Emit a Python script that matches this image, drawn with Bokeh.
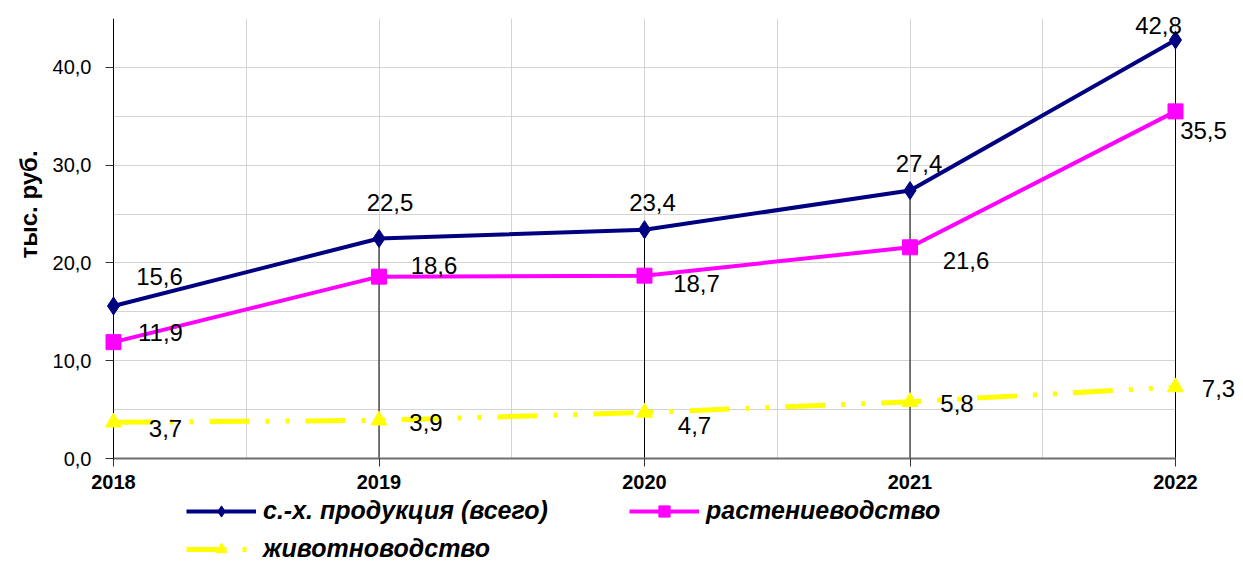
from bokeh.plotting import figure
from bokeh.models import FixedTicker, Legend, LegendItem, Title
from bokeh.core.properties import value
from bokeh.embed import file_html
from bokeh.resources import INLINE

# ---- data ----
years = [2018, 2019, 2020, 2021, 2022]
year_labels = ["2018", "2019", "2020", "2021", "2022"]
total = [15.6, 22.5, 23.4, 27.4, 42.8]        # с.-х. продукция (всего)
crops = [11.9, 18.6, 18.7, 21.6, 35.5]        # растениеводство
livestock = [3.7, 3.9, 4.7, 5.8, 7.3]         # животноводство
series_names = ["с.-х. продукция (всего)", "растениеводство", "животноводство"]
y_ticks = [0, 10, 20, 30, 40]
y_tick_labels = ["0,0", "10,0", "20,0", "30,0", "40,0"]
y_title = "тыс. руб."
y_max = 45

# ---- layout / style (not data) ----
y_grid_lines = [0, 5, 10, 15, 20, 25, 30, 35, 40, 45]
x_grid_lines = [2018, 2018.5, 2019, 2019.5, 2020, 2020.5, 2021, 2021.5, 2022]
label_dx = {
    "total": [46, 11, 8, 9, -17],
    "crops": [47, 55, 52, 56, 28],
    "livestock": [52, 47, 50, 47, 43],
}
label_dy = {
    "total": [-29, -36, -27, -27, -15],
    "crops": [-10, -11, 8, 13, 19],
    "livestock": [6, 2, 13, 2, 1],
}

FONT = "Liberation Sans"
PLOT_H = 440          # pixels for the 0..45 value band
BELOW_H = 105         # frame pixels under the zero line (axis labels + legend)
PLOT_W = 1062         # pixels for 2018..2022
LEFT_PAD = 67         # frame pixels left of 2018 (y tick labels)
RIGHT_PAD = 60        # frame pixels right of 2022 (data labels)
x_first, x_last = years[0], years[-1]
px_per_year = PLOT_W / (x_last - x_first)
px_per_unit = PLOT_H / y_max
x_start = x_first - LEFT_PAD / px_per_year
x_end = x_last + RIGHT_PAD / px_per_year
y_low = -BELOW_H / px_per_unit


def fmt(v):
    return f"{v:.1f}".replace(".", ",")


p = figure(frame_width=PLOT_W + LEFT_PAD + RIGHT_PAD, frame_height=PLOT_H + BELOW_H,
           x_range=(x_start, x_end), y_range=(y_low, y_max),
           output_backend="svg", toolbar_location=None,
           min_border_left=46, min_border_right=4,
           min_border_top=18, min_border_bottom=0)
p.outline_line_color = None
p.background_fill_color = "white"
p.border_fill_color = "white"

# grids (limited to the value band)
p.xgrid.ticker = FixedTicker(ticks=x_grid_lines)
p.ygrid.ticker = FixedTicker(ticks=y_grid_lines)
for g in (p.xgrid, p.ygrid):
    g.grid_line_color = "#D4D4D4"
    g.grid_line_width = 1
p.xgrid[0].cross_bounds = (0, y_max)
p.ygrid[0].cross_bounds = (x_first, x_last)

# axes
p.xaxis.fixed_location = 0
p.xaxis.bounds = (x_first, x_last)
p.xaxis.ticker = FixedTicker(ticks=years)
p.xaxis.major_label_overrides = {y: l for y, l in zip(years, year_labels)}
p.yaxis.fixed_location = x_first
p.yaxis.bounds = (0, y_max)
p.yaxis.ticker = FixedTicker(ticks=y_ticks)
p.yaxis.major_label_overrides = {t: l for t, l in zip(y_ticks, y_tick_labels)}
for ax in (p.xaxis, p.yaxis):
    ax.minor_tick_line_color = None
    ax.major_tick_in = 0
    ax.major_tick_out = 8
    ax.major_tick_line_color = "#333333"
    ax.major_label_text_font = FONT
    ax.major_label_text_color = "black"
p.xaxis.axis_line_color = "#6E6E6E"
p.xaxis.axis_line_width = 2
p.xaxis.major_label_text_font_size = "20px"
p.xaxis.major_label_text_font_style = "bold"
p.xaxis.major_label_standoff = 8
p.yaxis.axis_line_color = "black"
p.yaxis.major_label_text_font_size = "20px"
p.yaxis.major_label_standoff = 14

p.add_layout(Title(text=y_title, align="left", offset=BELOW_H + 200,
                   text_font=FONT, text_font_size="24px",
                   text_font_style="bold", text_color="black"), "left")

# drop lines
p.segment(x0=years, y0=[0] * len(years), x1=years, y1=total,
          line_color="black", line_width=1)

series = [
    ("total", total, "#000080", "diamond", 18, None),
    ("crops", crops, "#FF00FF", "square", 15, None),
    ("livestock", livestock, "#FFFF00", "triangle", 16, "40 16 4 16 4 16"),
]
items = []
for (key, vals, color, marker, size, dash), name in zip(series, series_names):
    lr = p.line(years, vals, line_color=color, line_width=5 if dash else 4,
                line_dash=dash if dash else "solid", level="overlay")
    mr = p.scatter(years, vals, marker=marker, size=size, fill_color=color,
                   line_color=color, level="overlay")
    items.append(LegendItem(label=name, renderers=[lr, mr]))

for (key, vals, color, marker, size, dash) in series:
    p.text(x=years, y=vals, text=[fmt(v) for v in vals],
           x_offset=label_dx[key], y_offset=label_dy[key],
           text_font=value(FONT), text_font_size="24px", text_color="black",
           text_align="center", text_baseline="middle", level="overlay")

legend_style = dict(orientation="horizontal", glyph_width=70, glyph_height=28,
                    label_standoff=7, padding=0, margin=0, spacing=8,
                    border_line_color=None, background_fill_alpha=0,
                    label_text_font=FONT, label_text_font_style="bold italic",
                    label_text_font_size="25px", label_text_color="black")
legend1 = Legend(items=items[:2], location=(LEFT_PAD + 73, 38), label_width=358,
                 **legend_style)
legend2 = Legend(items=items[2:], location=(LEFT_PAD + 73, 0), **legend_style)
p.add_layout(legend1, "center")
p.add_layout(legend2, "center")

open("out.html", "w").write(file_html(p, INLINE))
